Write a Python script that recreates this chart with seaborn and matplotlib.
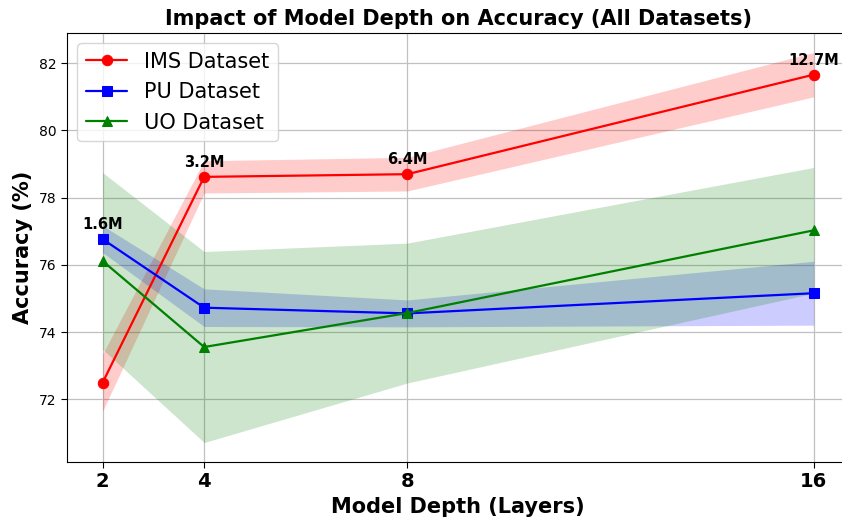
import numpy as np
import pandas as pd
import matplotlib
matplotlib.use("Agg")
import matplotlib.pyplot as plt
import seaborn as sns

# ========== data ==========
depths = [2, 4, 8, 16]
params = ["1.6M", "3.2M", "6.4M", "12.7M"]

ims_acc = [72.50, 78.62, 78.70, 81.66]
ims_std = [0.85, 0.48, 0.50, 0.66]
pu_acc = [76.77, 74.73, 74.56, 75.16]
pu_std = [0.40, 0.56, 0.40, 0.95]
uo_acc = [76.12, 73.56, 74.57, 77.03]
uo_std = [2.63, 2.84, 2.08, 1.87]

series = [
    ("IMS Dataset", ims_acc, ims_std, "red", "o"),
    ("PU Dataset", pu_acc, pu_std, "blue", "s"),
    ("UO Dataset", uo_acc, uo_std, "green", "^"),
]

sns.set_style("white")
plt.rcParams['font.family'] = ['DejaVu Sans']
plt.rcParams['text.color'] = 'black'
plt.rcParams['axes.labelcolor'] = 'black'
plt.rcParams['xtick.color'] = 'black'
plt.rcParams['ytick.color'] = 'black'

fig = plt.figure(figsize=(8.42, 5.23), dpi=100)
ax = fig.add_axes([0.0796, 0.1166, 0.929, 0.8204])

for name, acc, std, color, marker in series:
    df = pd.DataFrame({"depth": depths, "acc": acc})
    sns.lineplot(data=df, x="depth", y="acc", ax=ax, color=color, marker=marker,
                 markersize=7.5, markeredgecolor=color, linewidth=1.6, label=name)
    lo = np.array(acc) - np.array(std)
    hi = np.array(acc) + np.array(std)
    ax.fill_between(depths, lo, hi, color=color, alpha=0.2, linewidth=0)

# parameter counts above the IMS curve
for d, a, p in zip(depths, ims_acc, params):
    y_txt = a if d != 2 else pu_acc[0]
    ax.annotate(p, (d, y_txt), textcoords="offset points", xytext=(0, 7),
                ha="center", fontsize=10.5, fontweight="bold")

ax.set_xticks(depths)
ax.set_xticklabels([str(d) for d in depths], fontsize=14, fontweight="bold")
ax.tick_params(axis="y", labelsize=10)
ax.tick_params(axis="both", direction="out", length=4, bottom=True, left=True)
ax.grid(True, color="#c0c0c0", linewidth=0.9)
for s in ax.spines.values():
    s.set_edgecolor("black")
ax.spines["right"].set_visible(False)

ax.set_xlabel("Model Depth (Layers)", fontsize=15, fontweight="bold")
ax.set_ylabel("Accuracy (%)", fontsize=15, fontweight="bold")
ax.set_title("Impact of Model Depth on Accuracy (All Datasets)", fontsize=15, fontweight="bold")
ax.legend(loc="upper left", fontsize=15, frameon=True)

fig.savefig("out.png", dpi=100)
